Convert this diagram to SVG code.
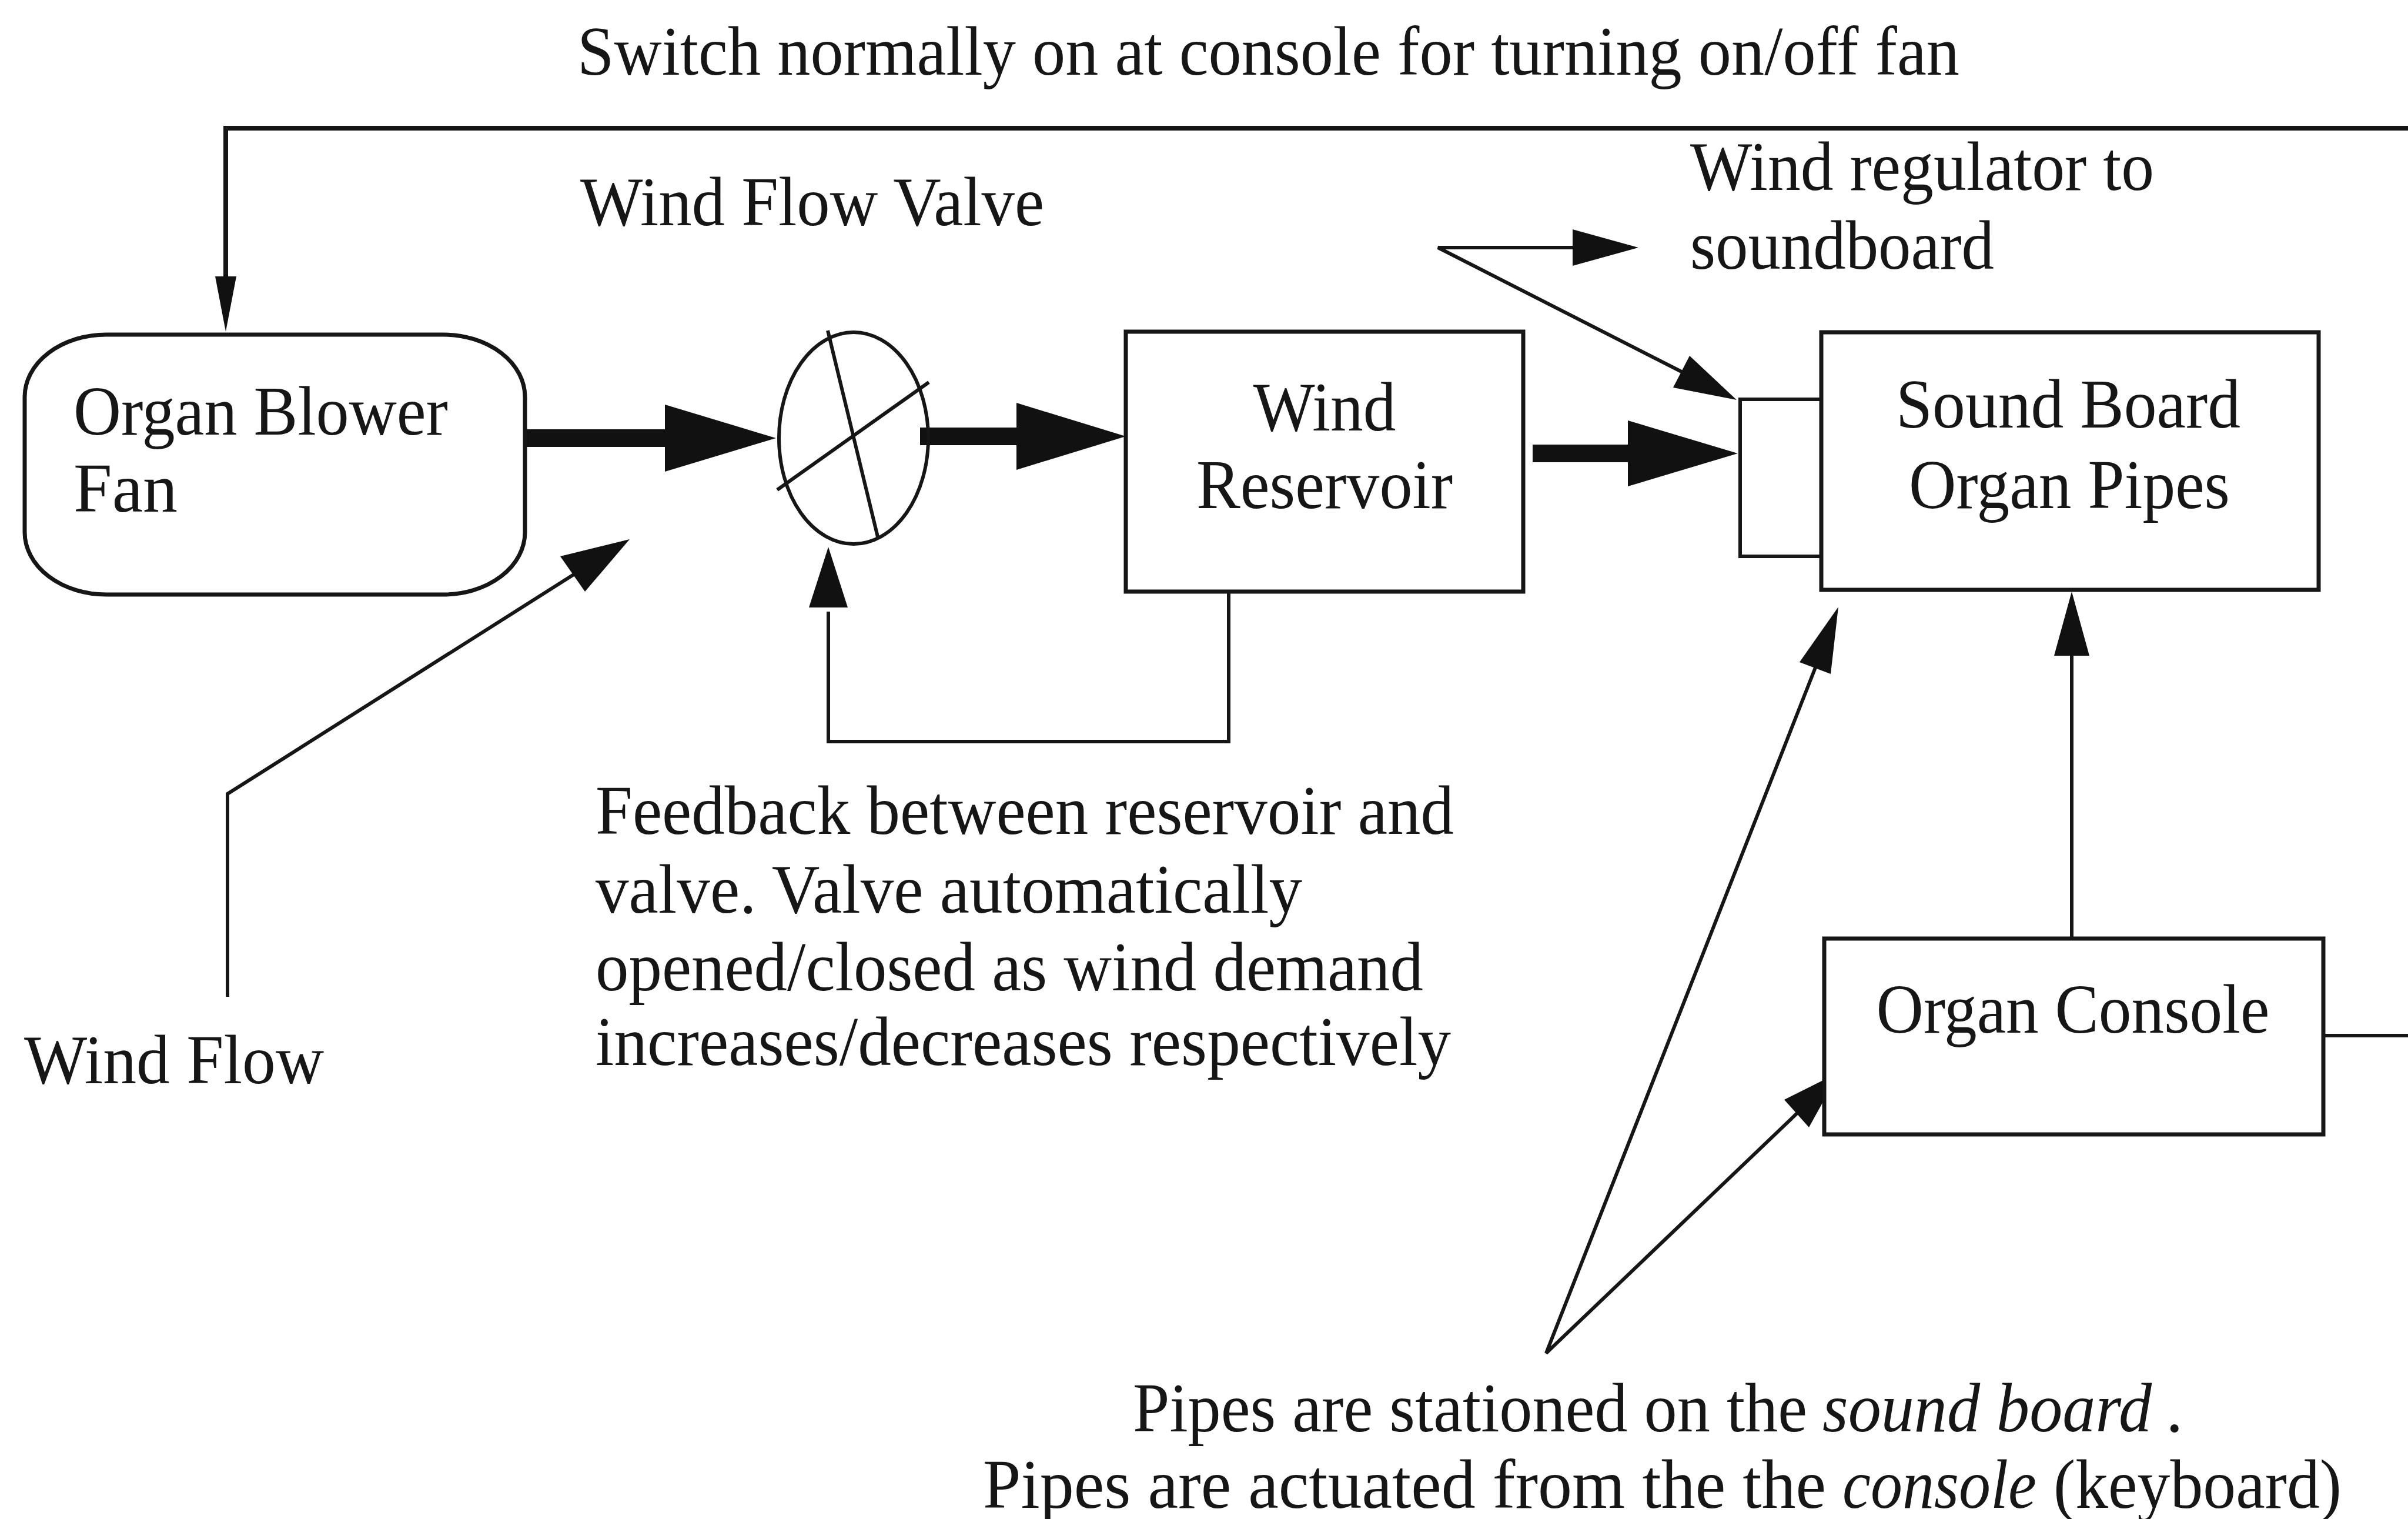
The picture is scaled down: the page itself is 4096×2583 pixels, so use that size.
<svg xmlns="http://www.w3.org/2000/svg" width="4096" height="2583" viewBox="0 0 4096 2583">
<style>
.box{fill:#fff;stroke:#161616;stroke-width:7}
.ln{fill:none;stroke:#161616;stroke-width:6;stroke-linejoin:miter}
.thick{fill:none;stroke:#111;stroke-width:30}
.hd{fill:#111;stroke:none}
.t{font-family:"Liberation Serif","Times New Roman",serif;font-size:118px;fill:#161616}
.it{font-style:italic}
</style>
<rect x="0" y="0" width="4096" height="2583" fill="#fff"/>
<g id="connectors">
  <polyline class="ln" style="stroke-width:8" points="4096,218 384,218 384,480"/>
  <polygon class="hd" points="384,564 366,470 402,470"/>
  <line class="ln" x1="3952" y1="1761" x2="4096" y2="1761"/>
  <line class="thick" x1="885" y1="745" x2="1140" y2="745"/>
  <polygon class="hd" points="1131,688 1320,745 1131,802"/>
  <line class="thick" x1="1565" y1="742" x2="1740" y2="742"/>
  <polygon class="hd" points="1729,685 1915,742 1729,799"/>
  <line class="thick" x1="2607" y1="771" x2="2780" y2="771"/>
  <polygon class="hd" points="2769,715 2956,771 2769,827"/>
  <polyline class="ln" points="3124,679 2960,679 2960,946 3124,946"/>
  <polyline class="ln" points="2680,421 2446,421 2870,637"/>
  <polygon class="hd" points="2787,421 2675,390 2675,452"/>
  <polygon class="hd" points="2954,680 2846,659 2874,605"/>
  <polyline class="ln" points="387,1695 387,1350 990,968"/>
  <polygon class="hd" points="1071,917 953,946 995,1006"/>
  <polyline class="ln" points="2090,1006 2090,1261 1409,1261 1409,1040"/>
  <polygon class="hd" points="1409,930 1376,1033 1442,1033"/>
  <line class="ln" x1="3524" y1="1596" x2="3524" y2="1100"/>
  <polygon class="hd" points="3524,1006 3494,1115 3554,1115"/>
  <polyline class="ln" points="3090,1130 2630,2301 3060,1890"/>
  <polygon class="hd" points="3127,1032 3061,1126 3114,1146"/>
  <polygon class="hd" points="3129,1823 3035,1870 3077,1917"/>
</g>
<g id="fan">
  <rect class="box" x="42" y="569" width="851" height="442" rx="139" ry="106"/>
  <text class="t" x="125" y="739" textLength="637" lengthAdjust="spacingAndGlyphs">Organ Blower</text>
  <text class="t" x="125" y="870">Fan</text>
</g>
<g id="valve">
  <ellipse class="ln" cx="1452" cy="745" rx="127" ry="180"/>
  <line class="ln" x1="1408" y1="562" x2="1494" y2="917"/>
  <line class="ln" x1="1322" y1="833" x2="1580" y2="650"/>
</g>
<g id="reservoir">
  <rect class="box" x="1915" y="564" width="676" height="442"/>
  <text class="t" x="2253" y="732" text-anchor="middle" textLength="243" lengthAdjust="spacingAndGlyphs">Wind</text>
  <text class="t" x="2253" y="864" text-anchor="middle" textLength="436" lengthAdjust="spacingAndGlyphs">Reservoir</text>
</g>
<g id="soundboard">
  <rect class="box" x="3098" y="565" width="846" height="438"/>
  <text class="t" x="3518" y="727" text-anchor="middle" textLength="586" lengthAdjust="spacingAndGlyphs">Sound Board</text>
  <text class="t" x="3520" y="864" text-anchor="middle" textLength="546" lengthAdjust="spacingAndGlyphs">Organ Pipes</text>
</g>
<g id="console">
  <rect class="box" x="3103" y="1596" width="849" height="333"/>
  <text class="t" x="3526" y="1756" text-anchor="middle" textLength="669" lengthAdjust="spacingAndGlyphs">Organ Console</text>
</g>
<g id="labels">
  <text class="t" x="982" y="127" textLength="2351" lengthAdjust="spacingAndGlyphs">Switch normally on at console for turning on/off fan</text>
  <text class="t" x="987" y="383" textLength="789" lengthAdjust="spacingAndGlyphs">Wind Flow Valve</text>
  <text class="t" x="2875" y="323" textLength="789" lengthAdjust="spacingAndGlyphs">Wind regulator to</text>
  <text class="t" x="2875" y="457" textLength="517" lengthAdjust="spacingAndGlyphs">soundboard</text>
  <text class="t" x="1013" y="1418" textLength="1460" lengthAdjust="spacingAndGlyphs">Feedback between reservoir and</text>
  <text class="t" x="1013" y="1552" textLength="1202" lengthAdjust="spacingAndGlyphs">valve. Valve automatically</text>
  <text class="t" x="1013" y="1684" textLength="1408" lengthAdjust="spacingAndGlyphs">opened/closed as wind demand</text>
  <text class="t" x="1013" y="1811" textLength="1455" lengthAdjust="spacingAndGlyphs">increases/decreases respectively</text>
  <text class="t" x="41" y="1842" textLength="510" lengthAdjust="spacingAndGlyphs">Wind Flow</text>
  <text class="t" x="1927" y="2434" textLength="1147" lengthAdjust="spacingAndGlyphs">Pipes are stationed on the</text>
  <text class="t it" x="3100" y="2434" textLength="560" lengthAdjust="spacingAndGlyphs">sound board</text>
  <text class="t" x="3684" y="2434">.</text>
  <text class="t" x="1672" y="2564" textLength="1434" lengthAdjust="spacingAndGlyphs">Pipes are actuated from the the</text>
  <text class="t it" x="3134" y="2564" textLength="330" lengthAdjust="spacingAndGlyphs">console</text>
  <text class="t" x="3493" y="2564" textLength="490" lengthAdjust="spacingAndGlyphs">(keyboard)</text>
</g>
</svg>
